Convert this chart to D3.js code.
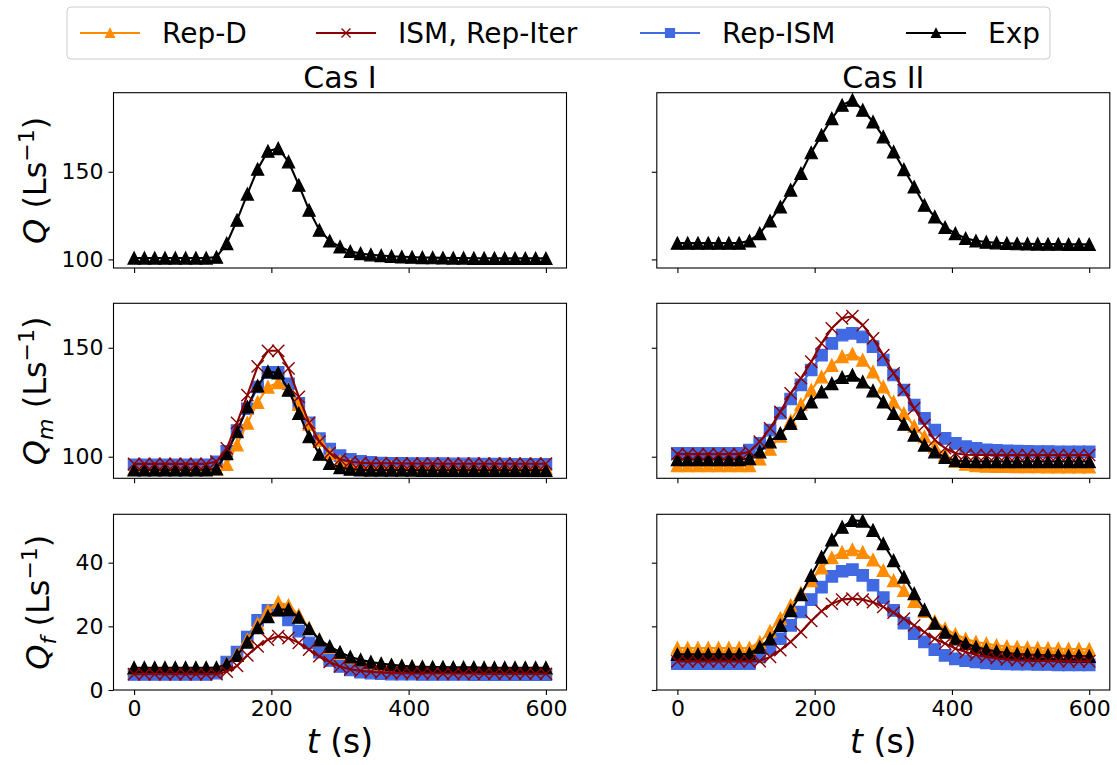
<!DOCTYPE html>
<html><head><meta charset="utf-8">
<script src="https://cdn.jsdelivr.net/npm/d3@7"></script>
<style>
html,body{margin:0;padding:0;background:#fff;}
svg{display:block;font-family:"DejaVu Sans",sans-serif;}
</style></head>
<body>
<svg id="chart" width="1117" height="765"></svg>
<script>
// ---------- DATA ----------
const time = [0,15,30,45,60,75,90,105,120,135,150,165,180,195,210,225,240,255,270,285,300,315,330,345,360,375,390,405,420,435,450,465,480,495,510,525,540,555,570,585,600];

const seriesNames = ["Rep-D", "ISM, Rep-Iter", "Rep-ISM", "Exp"];
const caseTitles = ["Cas I", "Cas II"];
const xTicks = [0, 200, 400, 600];
const yTicksQ = [100, 150];
const yTicksQm = [100, 150];
const yTicksQf = [0, 20, 40];

// Cas I
const caseI_Q_exp = [100.8,100.8,100.8,100.8,100.8,100.8,100.8,100.8,101.3,109.1,122.4,137.3,151.5,161.8,163.3,155.7,142.4,128.1,116.7,110.6,107.2,104.6,103.4,102.7,102.2,101.8,101.5,101.3,101.1,101.0,100.9,100.8,100.8,100.7,100.7,100.7,100.6,100.6,100.6,100.6,100.6];
const caseI_Qm_exp = [94.0,94.0,94.0,94.0,94.0,94.0,94.0,94.0,94.5,101.5,111.5,122.9,132.5,139.0,138.5,130.6,119.9,109.2,101.2,97.0,95.0,94.3,94.0,93.9,93.9,93.9,93.9,93.9,93.8,93.8,93.8,93.8,93.8,93.8,93.8,93.8,93.8,93.8,93.8,93.8,93.8];
const caseI_Qm_repD = [94.5,94.5,94.5,94.5,94.5,94.5,94.5,94.5,94.5,96.5,105.5,115.5,125.0,132.0,134.0,131.0,124.0,115.0,107.5,101.5,98.0,96.2,95.3,95.0,95.0,95.0,94.9,94.9,94.9,94.9,94.8,94.8,94.8,94.8,94.8,94.8,94.8,94.8,94.8,94.8,94.8];
const caseI_Qm_repISM = [96.3,96.3,96.3,96.3,96.3,96.3,96.3,96.3,97.7,102.5,112.0,122.0,132.0,138.7,138.7,133.5,124.5,115.5,108.3,103.5,100.5,98.8,97.9,97.4,97.1,97.0,97.0,96.9,96.9,96.8,96.8,96.7,96.7,96.7,96.6,96.6,96.6,96.5,96.5,96.5,96.5];
const caseI_Qm_ism = [96.7,96.7,96.7,96.7,96.7,96.7,96.7,96.7,97.8,103.8,115.5,128.3,141.5,148.6,148.6,140.5,127.5,115.5,106.9,101.7,98.8,97.7,97.2,97.0,97.0,97.0,96.9,96.9,96.9,96.9,96.8,96.8,96.8,96.8,96.8,96.8,96.8,96.8,96.8,96.8,96.8];
const caseI_Qf_exp = [7.0,7.0,7.0,7.0,7.0,7.0,7.0,7.0,7.0,8.1,10.9,15.1,19.6,23.1,25.3,25.3,22.9,19.3,15.8,13.7,11.9,10.4,9.5,8.8,8.3,7.9,7.6,7.4,7.3,7.2,7.2,7.1,7.1,7.1,7.0,7.0,7.0,7.0,7.0,7.0,7.0];
const caseI_Qf_repD = [6.8,6.8,6.8,6.8,6.8,6.8,6.8,6.8,6.8,8.3,11.3,15.8,20.8,25.0,27.6,26.6,23.5,19.5,15.8,13.4,11.6,10.2,9.3,8.6,8.1,7.8,7.5,7.3,7.1,7.0,6.9,6.9,6.8,6.8,6.8,6.8,6.8,6.8,6.8,6.8,6.8];
const caseI_Qf_repISM = [4.9,4.9,4.9,4.9,4.9,4.9,4.9,4.9,5.3,8.8,11.9,16.6,21.9,25.0,25.0,22.0,18.5,14.8,11.9,9.3,7.4,6.3,5.6,5.3,5.1,5.0,5.0,5.0,4.9,4.9,4.9,4.9,4.9,4.8,4.8,4.8,4.8,4.8,4.8,4.8,4.8];
const caseI_Qf_ism = [5.0,5.0,5.0,5.0,5.0,5.0,5.0,5.0,5.0,5.8,7.6,10.9,13.7,15.8,16.9,16.3,14.8,12.7,10.6,8.8,7.4,6.5,6.0,5.7,5.5,5.3,5.3,5.2,5.2,5.2,5.1,5.1,5.1,5.1,5.1,5.1,5.1,5.1,5.1,5.1,5.1];

// Cas II
const caseII_Q_exp = [109.3,109.3,109.3,109.3,109.3,109.3,109.3,110.6,114.8,122.0,130.0,139.6,149.1,160.9,170.9,180.4,188.0,190.9,185.2,178.5,170.0,161.4,151.3,141.4,131.0,124.3,118.3,114.8,112.0,110.6,109.9,109.5,109.2,109.0,108.9,108.8,108.7,108.7,108.6,108.6,108.6];
const caseII_Qm_exp = [98.7,98.7,98.7,98.7,98.7,98.7,98.7,99.2,102.3,106.9,110.7,115.3,119.9,125.2,129.8,133.6,136.4,137.5,134.4,130.3,125.2,119.9,115.0,110.0,105.4,102.3,99.7,98.2,97.9,97.8,97.8,97.8,97.8,97.8,97.8,97.8,97.8,97.8,97.8,97.8,97.8];
const caseII_Qm_repD = [96.0,96.0,96.0,96.0,96.0,96.0,96.0,96.0,99.0,103.5,109.5,116.5,124.0,130.6,136.7,142.0,146.0,147.2,144.4,139.0,132.1,125.2,119.9,114.1,109.2,104.6,100.8,98.0,96.6,96.0,95.7,95.6,95.6,95.5,95.5,95.5,95.4,95.4,95.4,95.4,95.4];
const caseII_Qm_repISM = [101.5,101.5,101.5,101.5,101.5,101.5,101.5,103.0,106.1,112.2,120.0,126.5,133.0,139.8,146.6,152.0,155.8,156.6,155.0,150.5,144.4,137.5,130.6,123.7,117.6,112.2,108.4,106.1,104.6,103.9,103.2,102.9,102.7,102.6,102.5,102.4,102.4,102.3,102.3,102.3,102.3];
const caseII_Qm_ism = [101.2,101.2,101.2,101.2,101.2,101.2,101.2,102.3,106.9,113.0,120.6,129.1,136.0,143.6,152.0,158.9,163.5,164.5,160.4,154.3,146.6,138.3,130.6,122.2,114.5,107.7,103.9,101.6,100.9,100.8,100.8,100.8,100.8,100.8,100.8,100.8,100.8,100.8,100.8,100.8,100.8];
const caseII_Qf_exp = [11.2,11.2,11.2,11.2,11.2,11.2,11.2,11.4,13.5,16.1,20.3,25.0,30.0,36.0,41.8,47.2,51.2,53.3,53.1,50.2,46.0,40.7,35.5,30.3,25.2,21.0,18.2,16.1,14.6,13.5,12.7,12.1,11.6,11.3,11.1,11.0,10.9,10.8,10.7,10.7,10.6];
const caseII_Qf_repD = [13.2,13.2,13.2,13.2,13.2,13.2,13.2,13.2,15.0,18.5,22.5,26.6,30.5,34.4,38.4,41.6,43.3,44.1,43.3,40.9,37.6,34.4,31.3,27.9,24.7,21.6,19.3,17.5,16.1,15.1,14.6,14.0,13.7,13.5,13.3,13.2,13.1,13.0,12.9,12.9,12.8];
const caseII_Qf_repISM = [8.3,8.3,8.3,8.3,8.3,8.3,8.3,8.3,10.4,13.0,16.1,20.3,24.5,28.4,32.3,35.7,37.3,37.8,36.0,32.9,29.0,25.0,21.0,17.7,15.1,12.7,10.9,9.8,9.2,8.8,8.5,8.3,8.2,8.1,8.1,8.0,8.0,7.9,7.9,7.9,7.9];
const caseII_Qf_ism = [9.0,9.0,9.0,9.0,9.0,9.0,9.0,9.0,9.1,10.4,12.5,15.1,18.2,21.7,24.8,27.1,28.4,28.7,28.4,27.6,26.1,24.3,22.4,20.3,18.2,16.1,14.6,13.0,11.9,11.1,10.4,10.0,9.6,9.4,9.3,9.2,9.1,9.1,9.0,9.0,9.0];

// ---------- STYLE / LAYOUT ----------
const styles = {
  "Rep-D":        {color:"#FF8C00", marker:"tri"},
  "ISM, Rep-Iter":{color:"#8B0000", marker:"x"},
  "Rep-ISM":      {color:"#4169E1", marker:"sq"},
  "Exp":          {color:"#000000", marker:"tri"}
};
const drawOrder = ["Rep-ISM", "Rep-D", "Exp", "ISM, Rep-Iter"];

const colBox = [{x0:113.5, x1:566.5}, {x0:656.8, x1:1109.8}];
const rowBox = [{y0:92.7, y1:268}, {y0:303.3, y1:478.3}, {y0:514.3, y1:690}];
const yDomains = [[95.1,195.1],[90.1,170.4],[0,55.2]];
const yTickSets = [yTicksQ, yTicksQm, yTicksQf];
const xDomain = [-30, 630];

const panelData = [
  [ {"Exp":caseI_Q_exp},
    {"Rep-D":caseI_Qm_repD,"ISM, Rep-Iter":caseI_Qm_ism,"Rep-ISM":caseI_Qm_repISM,"Exp":caseI_Qm_exp},
    {"Rep-D":caseI_Qf_repD,"ISM, Rep-Iter":caseI_Qf_ism,"Rep-ISM":caseI_Qf_repISM,"Exp":caseI_Qf_exp} ],
  [ {"Exp":caseII_Q_exp},
    {"Rep-D":caseII_Qm_repD,"ISM, Rep-Iter":caseII_Qm_ism,"Rep-ISM":caseII_Qm_repISM,"Exp":caseII_Qm_exp},
    {"Rep-D":caseII_Qf_repD,"ISM, Rep-Iter":caseII_Qf_ism,"Rep-ISM":caseII_Qf_repISM,"Exp":caseII_Qf_exp} ]
];

const svg = d3.select("#chart");
const MS = 12.2;

function markerPath(type, s) {
  const h = s/2;
  if (type === "tri") return `M0,${-h}L${-h},${h}L${h},${h}Z`;
  if (type === "sq") return `M${-h},${-h}H${h}V${h}H${-h}Z`;
  return `M${-h},${-h}L${h},${h}M${-h},${h}L${h},${-h}`;
}
function drawMarker(g, type, color, s) {
  const p = g.append("path").attr("d", markerPath(type, s));
  if (type === "x") p.attr("fill","none").attr("stroke",color).attr("stroke-width",1.4);
  else p.attr("fill",color).attr("stroke",color).attr("stroke-width",1.2).attr("stroke-linejoin","miter");
}

for (let c = 0; c < 2; c++) {
  const x = d3.scaleLinear().domain(xDomain).range([colBox[c].x0, colBox[c].x1]);
  for (let r = 0; r < 3; r++) {
    const y = d3.scaleLinear().domain(yDomains[r]).range([rowBox[r].y1, rowBox[r].y0]);
    const g = svg.append("g");
    const clipId = `clip${c}${r}`;
    svg.append("clipPath").attr("id", clipId).append("rect")
      .attr("x", colBox[c].x0).attr("y", rowBox[r].y0)
      .attr("width", colBox[c].x1-colBox[c].x0).attr("height", rowBox[r].y1-rowBox[r].y0);
    const plot = g.append("g").attr("clip-path", `url(#${clipId})`);
    const data = panelData[c][r];
    drawOrder.forEach(name => {
      const vals = data[name];
      if (!vals) return;
      const st = styles[name];
      const pts = time.map((t,i) => [t, vals[i]]);
      plot.append("path").datum(pts)
        .attr("d", d3.line().x(d => x(d[0])).y(d => y(d[1])))
        .attr("fill","none").attr("stroke",st.color).attr("stroke-width",2.1)
        .attr("stroke-linejoin","round");
      pts.forEach(d => {
        const mg = plot.append("g").attr("transform", `translate(${x(d[0])},${y(d[1])})`);
        drawMarker(mg, st.marker, st.color, st.marker === "sq" ? MS*0.94 : MS);
      });
    });
    // axes
    const xa = d3.axisBottom(x).tickValues(xTicks).tickSize(5).tickPadding(5)
      .tickFormat(r === 2 ? d3.format("d") : () => "");
    const xg = g.append("g").attr("transform", `translate(0,${rowBox[r].y1})`).call(xa);
    const ya = d3.axisLeft(y).tickValues(yTickSets[r]).tickSize(5).tickPadding(5)
      .tickFormat(c === 0 ? d3.format("d") : () => "");
    const yg = g.append("g").attr("transform", `translate(${colBox[c].x0},0)`).call(ya);
    [xg, yg].forEach(a => {
      a.select(".domain").remove();
      a.selectAll("line").attr("stroke","#000").attr("stroke-width",1.1);
      a.selectAll("text").attr("font-size", 22).attr("fill","#000")
        .attr("font-family","DejaVu Sans");
    });
    // frame
    g.append("rect").attr("x", colBox[c].x0).attr("y", rowBox[r].y0)
      .attr("width", colBox[c].x1-colBox[c].x0).attr("height", rowBox[r].y1-rowBox[r].y0)
      .attr("fill","none").attr("stroke","#000").attr("stroke-width",1.1);
  }
  // title
  svg.append("text").attr("x", (colBox[c].x0+colBox[c].x1)/2).attr("y", 88)
    .attr("text-anchor","middle").attr("font-size",30).text(caseTitles[c]);
  // x label
  const xl = svg.append("text").attr("x", (colBox[c].x0+colBox[c].x1)/2).attr("y", 753)
    .attr("text-anchor","middle").attr("font-size",33);
  xl.append("tspan").attr("font-style","italic").text("t");
  xl.append("tspan").text(" (s)");
}

// y labels
const yLabelSubs = ["", "m", "f"];
const yLabelX = [46, 46, 49];
for (let r = 0; r < 3; r++) {
  const cy = (rowBox[r].y0 + rowBox[r].y1)/2;
  const t = svg.append("text").attr("transform", `translate(${yLabelX[r]},${cy}) rotate(-90)`)
    .attr("text-anchor","middle").attr("font-size",32);
  t.append("tspan").attr("font-style","italic").text("Q");
  if (yLabelSubs[r]) {
    t.append("tspan").attr("font-style","italic").attr("font-size",22).attr("dy",7).text(yLabelSubs[r]);
    t.append("tspan").attr("dy",-7).text(" (Ls");
  } else {
    t.append("tspan").text(" (Ls");
  }
  t.append("tspan").attr("font-size",22).attr("dy",-12).text("\u22121");
  t.append("tspan").attr("dy",12).text(")");
}

// legend
const leg = svg.append("g");
leg.append("rect").attr("x",67).attr("y",7).attr("width",983).attr("height",52).attr("rx",4)
  .attr("fill","#fff").attr("fill-opacity",0.8).attr("stroke","#cccccc").attr("stroke-width",1);
const legLineX = [80, 316, 640, 906];
const legOrder = ["Rep-D", "ISM, Rep-Iter", "Rep-ISM", "Exp"];
legOrder.forEach((name, i) => {
  const st = styles[name];
  const x0 = legLineX[i];
  leg.append("line").attr("x1", x0).attr("x2", x0+60).attr("y1",33).attr("y2",33)
    .attr("stroke", st.color).attr("stroke-width",2.1);
  const mg = leg.append("g").attr("transform", `translate(${x0+30},33)`);
  drawMarker(mg, st.marker, st.color, 9);
  leg.append("text").attr("x", x0+82).attr("y", 43).attr("font-size",28).text(name);
});
</script>
</body></html>
